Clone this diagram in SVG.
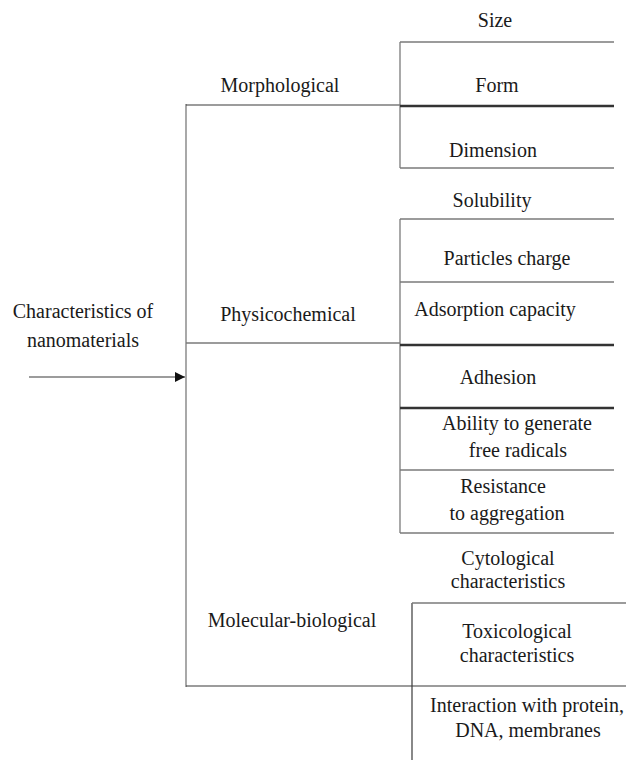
<svg xmlns="http://www.w3.org/2000/svg" width="629" height="760" viewBox="0 0 629 760">
<style>
text{font-family:'Liberation Serif','Times New Roman','DejaVu Serif',serif;font-size:20px;fill:#1a1a1a;text-anchor:middle}
.g{stroke:#7a7a7a;stroke-width:1.3;fill:none}
.d{stroke:#3a3a3a;stroke-width:1.2;fill:none}
.t{stroke:#333;stroke-width:2.4;fill:none}
</style>
<defs>
<marker id="ah" viewBox="0 0 10 10" refX="10" refY="5" markerWidth="14" markerHeight="10" markerUnits="userSpaceOnUse" orient="auto">
<path d="M0,0 L10,5 L0,10 Z" fill="#111"/>
</marker>
</defs>
<rect width="629" height="760" fill="#fff"/>
<g id="connectors">
<line class="d" x1="29" y1="377" x2="185" y2="377" marker-end="url(#ah)"/>
<line class="g" x1="186" y1="104" x2="186" y2="687"/>
<line class="d" x1="186" y1="105" x2="400" y2="105"/>
<line class="g" x1="186" y1="343" x2="400" y2="343"/>
<line class="d" x1="186" y1="686" x2="626" y2="686"/>
<line class="g" x1="400" y1="42" x2="400" y2="168"/>
<line class="g" x1="400" y1="42" x2="614" y2="42"/>
<line class="t" x1="400" y1="106" x2="614" y2="106"/>
<line class="g" x1="400" y1="168" x2="614" y2="168"/>
<line class="g" x1="400" y1="219" x2="400" y2="533"/>
<line class="g" x1="400" y1="219" x2="614" y2="219"/>
<line class="g" x1="400" y1="282" x2="614" y2="282"/>
<line class="t" x1="400" y1="345" x2="614" y2="345"/>
<line class="t" x1="400" y1="408" x2="614" y2="408"/>
<line class="g" x1="400" y1="470" x2="614" y2="470"/>
<line class="g" x1="400" y1="533" x2="614" y2="533"/>
<line class="d" x1="412" y1="603" x2="412" y2="760"/>
<line class="g" x1="412" y1="603" x2="626" y2="603"/>
</g>
<g font-family="Liberation Serif, serif">
<g id="root"><text x="83" y="318">Characteristics of</text><text x="83" y="347">nanomaterials</text></g>
<g id="morphological"><text x="280" y="92">Morphological</text></g>
<g id="physicochemical"><text x="288" y="321">Physicochemical</text></g>
<g id="molecular"><text x="292" y="627">Molecular-biological</text></g>
<g id="size"><text x="495" y="27">Size</text></g>
<g id="form"><text x="497" y="92">Form</text></g>
<g id="dimension"><text x="493" y="157">Dimension</text></g>
<g id="solubility"><text x="492" y="207">Solubility</text></g>
<g id="charge"><text x="507" y="265">Particles charge</text></g>
<g id="adsorption"><text x="495" y="316">Adsorption capacity</text></g>
<g id="adhesion"><text x="498" y="384">Adhesion</text></g>
<g id="radicals"><text x="517" y="430">Ability to generate</text><text x="518" y="457">free radicals</text></g>
<g id="aggregation"><text x="503" y="493">Resistance</text><text x="507" y="520">to aggregation</text></g>
<g id="cytological"><text x="508" y="565">Cytological</text><text x="508" y="588">characteristics</text></g>
<g id="toxicological"><text x="517" y="638">Toxicological</text><text x="517" y="662">characteristics</text></g>
<g id="interaction"><text x="527" y="712">Interaction with protein,</text><text x="528" y="737">DNA, membranes</text></g>
</g>
</svg>
